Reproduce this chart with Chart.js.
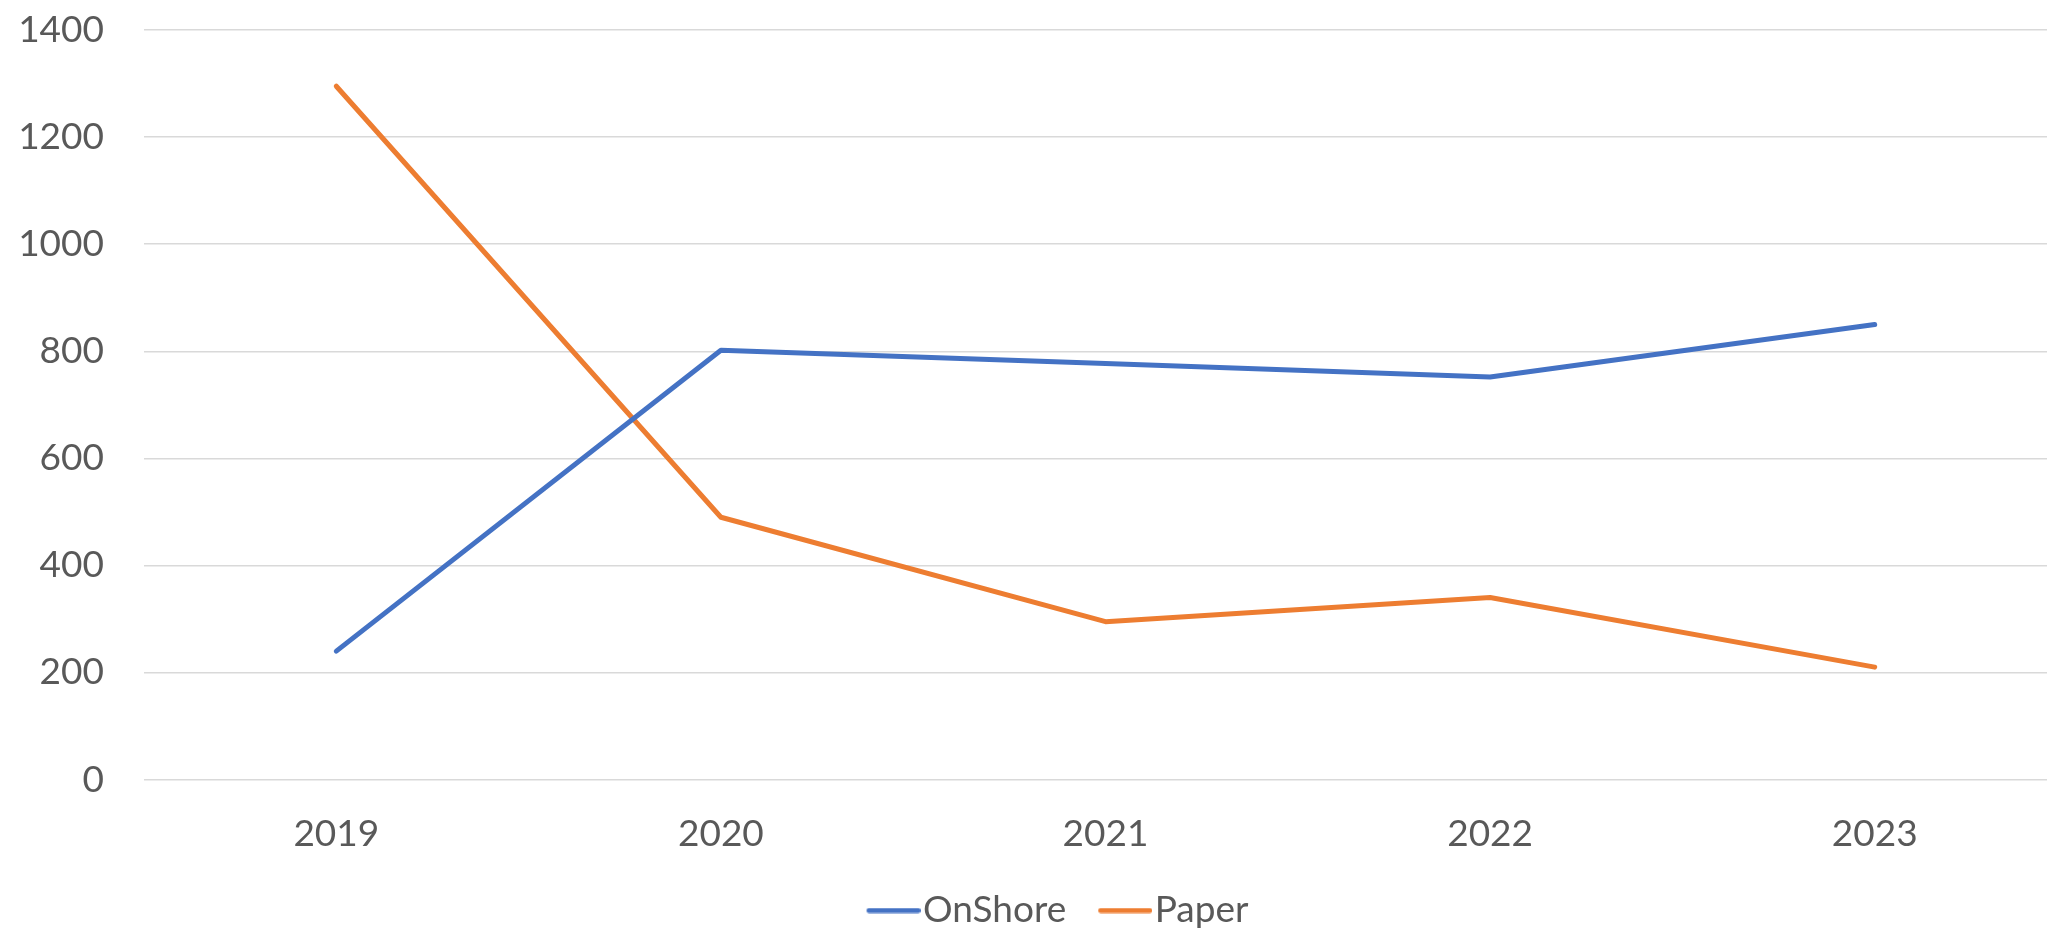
<!DOCTYPE html>
<html>
<head>
<meta charset="utf-8">
<script src="https://cdn.jsdelivr.net/npm/chart.js@4"></script>
<style>
  html, body { margin: 0; padding: 0; background: #fff; overflow: hidden; }
  #wrap { width: 2100px; height: 929px; }
</style>
</head>
<body>
<div id="wrap"><canvas id="lineChart" width="2100" height="929"></canvas></div>
<script>
const years = ['2019', '2020', '2021', '2022', '2023'];
const onShore = [240, 802, 777, 752, 850];
const paper = [1295, 490, 295, 340, 210];
const yTicks = [0, 200, 400, 600, 800, 1000, 1200, 1400];

const textColor = '#595959';
const font = { family: 'Lato', size: 37 };
const legendBoxWidth = 66;

// legend marker: a short thick line sitting right against the label text
function makeLegendLine(color) {
  const c = document.createElement('canvas');
  c.width = legendBoxWidth + 32;
  c.height = 6;
  const g = c.getContext('2d');
  g.strokeStyle = color;
  g.lineWidth = 5;
  g.lineCap = 'round';
  g.beginPath();
  g.moveTo(c.width - 54 + 2.5, 3);
  g.lineTo(c.width - 2.5, 3);
  g.stroke();
  return c;
}

const ctx = document.getElementById('lineChart').getContext('2d');
const chart = new Chart(ctx, {
  type: 'line',
  data: {
    labels: years,
    datasets: [
      {
        label: 'OnShore',
        data: onShore,
        borderColor: '#4472C4',
        backgroundColor: '#4472C4',
        borderWidth: 5,
        pointRadius: 0,
        pointStyle: makeLegendLine('#4472C4'),
        borderCapStyle: 'round',
        borderJoinStyle: 'round',
        tension: 0,
      },
      {
        label: 'Paper',
        data: paper,
        borderColor: '#ED7D31',
        backgroundColor: '#ED7D31',
        borderWidth: 5,
        pointRadius: 0,
        pointStyle: makeLegendLine('#ED7D31'),
        borderCapStyle: 'round',
        borderJoinStyle: 'round',
        tension: 0,
      },
    ],
  },
  options: {
    responsive: false,
    animation: false,
    layout: { padding: { left: 20, right: 33, top: 30, bottom: -10 } },
    plugins: {
      tooltip: { enabled: false },
      legend: {
        position: 'bottom',
        labels: {
          color: textColor,
          font: font,
          usePointStyle: true,
          pointStyleWidth: legendBoxWidth,
          padding: 4,
        },
      },
    },
    scales: {
      x: {
        offset: true,
        grid: { display: false, drawTicks: false },
        border: { display: false },
        ticks: { color: textColor, font: font, padding: 32, maxRotation: 0 },
      },
      y: {
        min: 0,
        max: 1400,
        afterFit: (scale) => {
          // keep the label gap without letting it push the plot area inward
          scale.width = 124;
          scale.paddingTop = 22;
          scale.paddingBottom = 22;
        },
        afterBuildTicks: (scale) => { scale.ticks = yTicks.map((v) => ({ value: v })); },
        grid: { color: '#D9D9D9', lineWidth: 1.5, drawTicks: false },
        border: { display: false },
        ticks: { color: textColor, font: font, padding: 40, callback: (value) => String(value) },
      },
    },
  },
});
</script>
</body>
</html>
